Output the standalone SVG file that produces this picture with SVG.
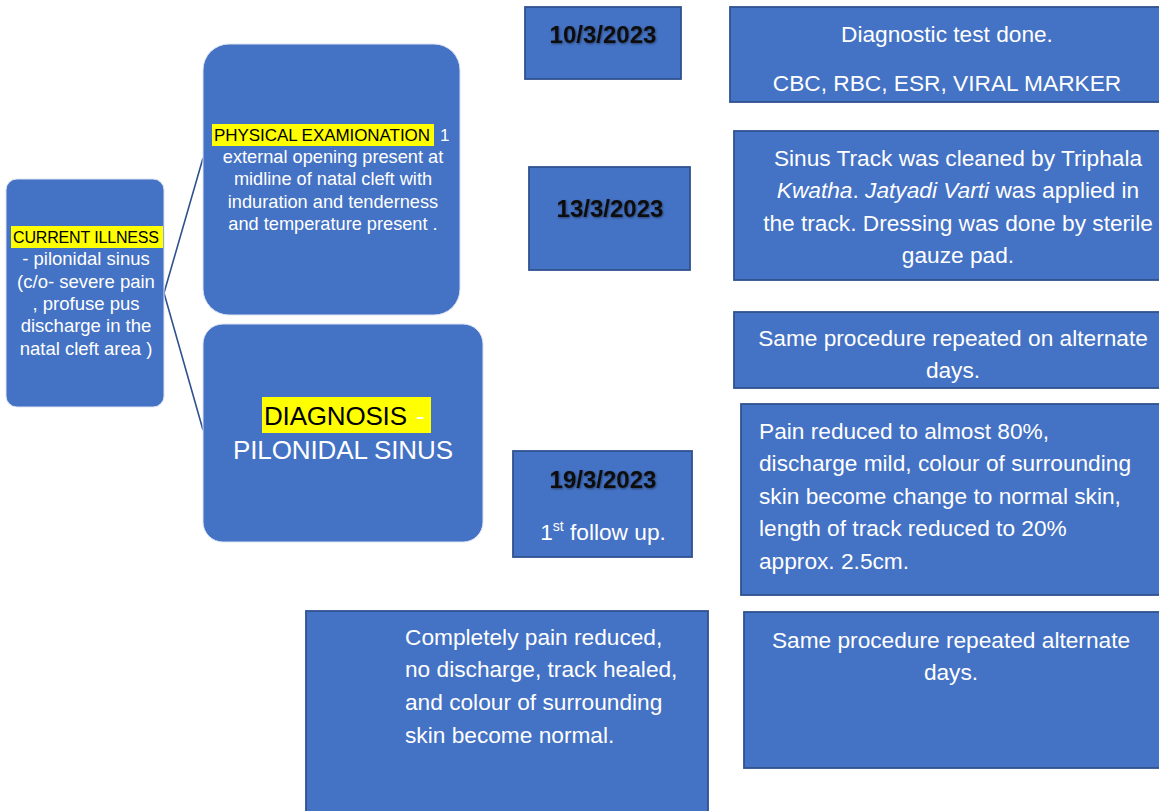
<svg xmlns="http://www.w3.org/2000/svg" width="1159" height="811" viewBox="0 0 1159 811">
<style>
text{font-family:"Liberation Sans",Arial,sans-serif;fill:#fff}
.box{fill:#4472C4;stroke:#2F528F;stroke-width:1.8}
.rbox{fill:#4472C4;stroke:#DCE3F2;stroke-width:1}
.t20{font-size:22.7px}
.c{text-anchor:middle}
.date{font-size:24px;font-weight:bold;fill:#111;text-anchor:middle;filter:url(#sh)}
.hl{fill:#FFFF00}
.blk{fill:#000}
.conn{fill:none;stroke:#2F528F;stroke-width:1.6}
</style>
<defs>
<filter id="sh" x="-10%" y="-30%" width="130%" height="170%">
<feDropShadow dx="0.8" dy="1" stdDeviation="0.9" flood-color="#000" flood-opacity="0.45"/>
</filter>
</defs>
<rect width="1159" height="811" fill="#fff"/>
<g id="connectors">
<path class="conn" d="M203,158 L164,293 L203,430"/>
</g>
<g id="current-illness">
<rect class="rbox" x="6" y="179" width="158" height="228" rx="11"/>
<rect class="hl" x="11" y="226" width="152" height="22"/>
<text class="c blk" x="86" y="243" font-size="16" textLength="146">CURRENT ILLNESS</text>
<text class="c" font-size="18.5"><tspan x="86" y="265">- pilonidal sinus</tspan><tspan x="86" y="288">(c/o- severe pain</tspan><tspan x="86" y="310">, profuse pus</tspan><tspan x="86" y="332">discharge in the</tspan><tspan x="86" y="355">natal cleft area )</tspan></text>
</g>
<g id="physical-exam">
<rect class="rbox" x="203" y="44" width="257" height="271" rx="26"/>
<rect class="hl" x="212" y="124" width="222" height="22"/>
<text font-size="17"><tspan class="blk" x="214" y="141" textLength="216">PHYSICAL EXAMIONATION</tspan><tspan x="440" y="141">1</tspan></text>
<text class="c" font-size="18.2"><tspan x="333" y="163">external opening present at</tspan><tspan x="333" y="185">midline of natal cleft with</tspan><tspan x="333" y="208">induration and tenderness</tspan><tspan x="333" y="230">and temperature present .</tspan></text>
</g>
<g id="diagnosis">
<rect class="rbox" x="203" y="324" width="280" height="218" rx="20"/>
<rect class="hl" x="262" y="397" width="169" height="36"/>
<text font-size="26"><tspan class="blk" x="264" y="425" textLength="143">DIAGNOSIS</tspan><tspan x="416" y="425">-</tspan></text>
<text class="c" font-size="26" x="343" y="459" textLength="220">PILONIDAL SINUS</text>
</g>
<g id="date-10-3">
<rect class="box" x="525" y="7" width="156" height="72"/>
<text class="date" x="603" y="43">10/3/2023</text>
</g>
<g id="diagnostic-test">
<rect class="box" x="730" y="7" width="432" height="95"/>
<text class="t20 c"><tspan x="947" y="42">Diagnostic test done.</tspan><tspan x="947" y="91">CBC, RBC, ESR, VIRAL MARKER</tspan></text>
</g>
<g id="date-13-3">
<rect class="box" x="529" y="167" width="161" height="103"/>
<text class="date" x="610" y="217">13/3/2023</text>
</g>
<g id="sinus-track">
<rect class="box" x="734" y="131" width="428" height="149"/>
<text class="t20 c"><tspan x="958" y="166">Sinus Track was cleaned by Triphala</tspan><tspan x="958" y="198"><tspan font-style="italic">Kwatha</tspan>. <tspan font-style="italic">Jatyadi Varti</tspan> was applied in</tspan><tspan x="958" y="231">the track. Dressing was done by sterile</tspan><tspan x="958" y="263">gauze pad.</tspan></text>
</g>
<g id="same-procedure-1">
<rect class="box" x="734" y="312" width="428" height="76"/>
<text class="t20 c"><tspan x="953" y="346">Same procedure repeated on alternate</tspan><tspan x="953" y="378">days.</tspan></text>
</g>
<g id="pain-reduced">
<rect class="box" x="741" y="404" width="421" height="191"/>
<text class="t20"><tspan x="759" y="439">Pain reduced to almost 80%,</tspan><tspan x="759" y="471">discharge mild, colour of surrounding</tspan><tspan x="759" y="504">skin become change to normal skin,</tspan><tspan x="759" y="536">length of track reduced to 20%</tspan><tspan x="759" y="569">approx. 2.5cm.</tspan></text>
</g>
<g id="date-19-3">
<rect class="box" x="513" y="451" width="179" height="106"/>
<text class="date" x="603" y="488">19/3/2023</text>
<text class="t20 c" x="603" y="540">1<tspan font-size="14" dy="-9">st</tspan><tspan dy="9"> follow up.</tspan></text>
</g>
<g id="completely">
<rect class="box" x="306" y="611" width="402" height="210"/>
<text class="t20"><tspan x="405" y="645">Completely pain reduced,</tspan><tspan x="405" y="677">no discharge, track healed,</tspan><tspan x="405" y="710">and colour of surrounding</tspan><tspan x="405" y="743">skin become normal.</tspan></text>
</g>
<g id="same-procedure-2">
<rect class="box" x="744" y="612" width="418" height="156"/>
<text class="t20 c"><tspan x="951" y="648">Same procedure repeated alternate</tspan><tspan x="951" y="680">days.</tspan></text>
</g>
</svg>
